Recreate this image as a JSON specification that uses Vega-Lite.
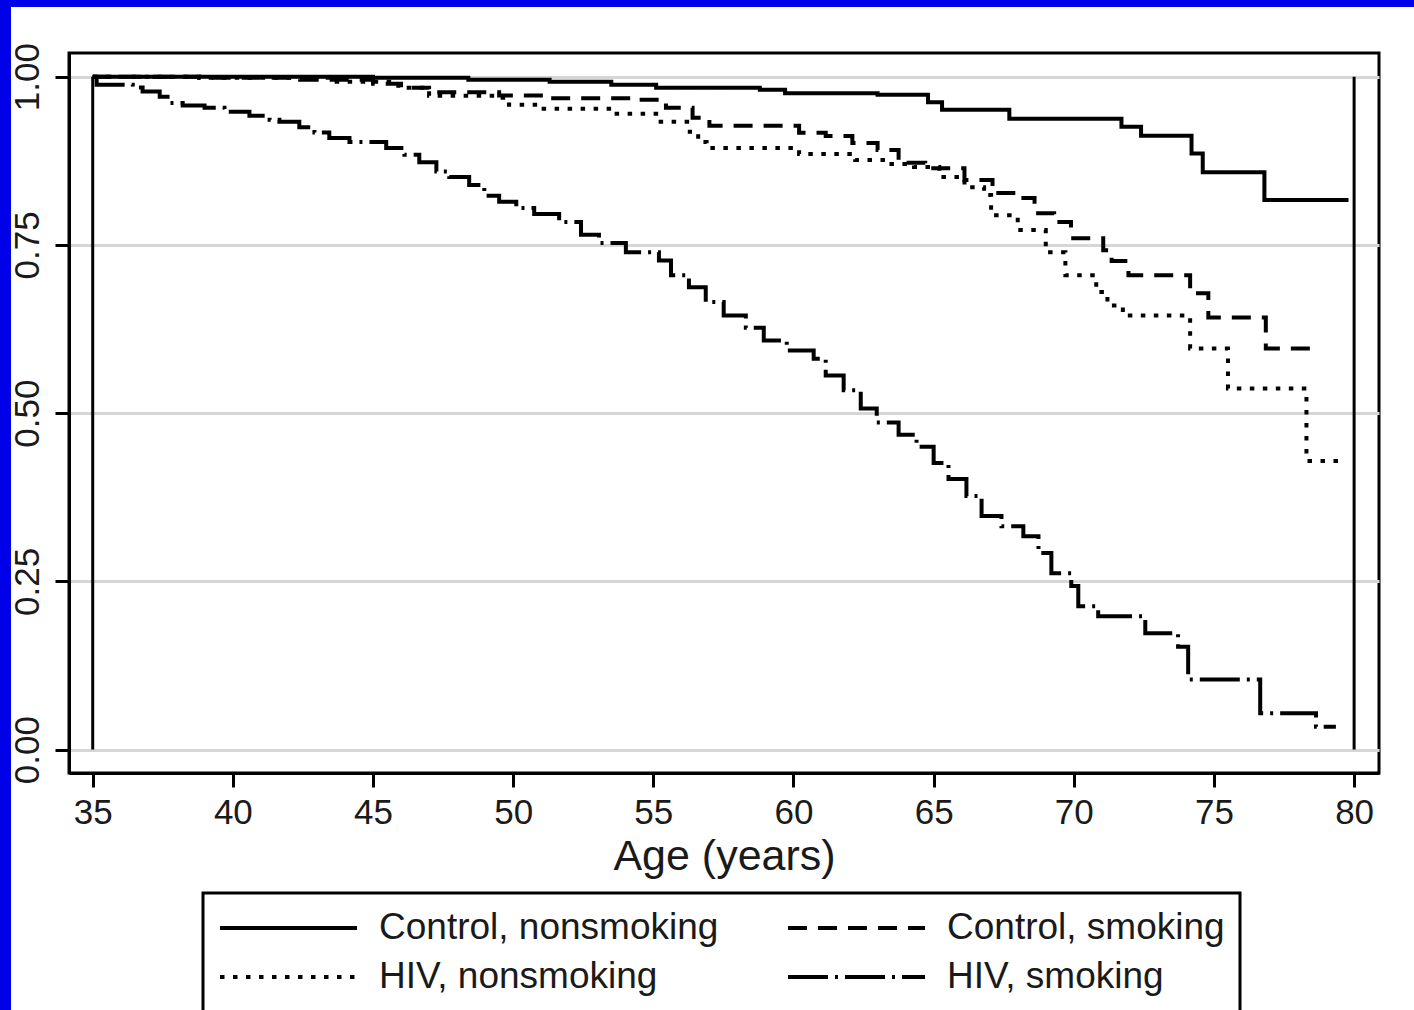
{
  "$schema": "https://vega.github.io/schema/vega-lite/v6.json",
  "width": 1310,
  "height": 720,
  "autosize": {"type": "none"},
  "padding": {"left": 69, "top": 53, "right": 35, "bottom": 237},
  "background": "white",
  "config": {
    "font": "Liberation Sans",
    "view": {"stroke": "black", "strokeWidth": 3},
    "axisX": {
      "titleFont": "Liberation Sans",
      "titleFontSize": 43,
      "titleFontWeight": "normal",
      "titleColor": "#1a1a1a",
      "titlePadding": 5,
      "labelFont": "Liberation Sans",
      "labelFontSize": 35,
      "labelColor": "#1a1a1a",
      "labelPadding": 8,
      "labelFlush": false,
      "labelOverlap": false,
      "tickSize": 14,
      "tickWidth": 3,
      "tickColor": "black",
      "domainColor": "black",
      "domainWidth": 3,
      "grid": false
    },
    "axisY": {
      "labelFont": "Liberation Sans",
      "labelFontSize": 35,
      "labelColor": "#1a1a1a",
      "labelAngle": -90,
      "labelAlign": "center",
      "labelBaseline": "alphabetic",
      "labelPadding": 17,
      "labelFlush": false,
      "labelOverlap": false,
      "tickSize": 14,
      "tickWidth": 3,
      "tickColor": "black",
      "domainColor": "black",
      "domainWidth": 3,
      "grid": true,
      "gridColor": "#d6d6d6",
      "gridWidth": 3
    },
    "legend": {
      "orient": "none",
      "legendX": 134,
      "legendY": 840,
      "direction": "horizontal",
      "columns": 2,
      "symbolType": "stroke",
      "symbolSize": 18769,
      "symbolStrokeWidth": 4,
      "symbolStrokeColor": "black",
      "clipHeight": 40,
      "labelFont": "Liberation Sans",
      "labelFontSize": 37,
      "labelColor": "#1a1a1a",
      "labelOffset": 20,
      "labelLimit": 600,
      "rowPadding": 9,
      "columnPadding": 67,
      "padding": 15,
      "strokeColor": "black",
      "strokeWidth": 3,
      "fillColor": "white"
    }
  },
  "datasets": {
    "curves": [
      {"group": "Control, nonsmoking", "age": 35.0, "surv": 1.0},
      {"group": "Control, nonsmoking", "age": 45.0, "surv": 0.9985},
      {"group": "Control, nonsmoking", "age": 48.4, "surv": 0.9955},
      {"group": "Control, nonsmoking", "age": 51.3, "surv": 0.9925},
      {"group": "Control, nonsmoking", "age": 53.5, "surv": 0.988},
      {"group": "Control, nonsmoking", "age": 55.1, "surv": 0.9836},
      {"group": "Control, nonsmoking", "age": 58.8, "surv": 0.9806},
      {"group": "Control, nonsmoking", "age": 59.7, "surv": 0.9754},
      {"group": "Control, nonsmoking", "age": 63.0, "surv": 0.9732},
      {"group": "Control, nonsmoking", "age": 64.8, "surv": 0.962},
      {"group": "Control, nonsmoking", "age": 65.3, "surv": 0.951},
      {"group": "Control, nonsmoking", "age": 67.7, "surv": 0.9374},
      {"group": "Control, nonsmoking", "age": 71.7, "surv": 0.9255},
      {"group": "Control, nonsmoking", "age": 72.4, "surv": 0.9121},
      {"group": "Control, nonsmoking", "age": 74.2, "surv": 0.886},
      {"group": "Control, nonsmoking", "age": 74.6, "surv": 0.858},
      {"group": "Control, nonsmoking", "age": 76.8, "surv": 0.8167},
      {"group": "Control, nonsmoking", "age": 79.8, "surv": 0.8167},

      {"group": "Control, smoking", "age": 35.0, "surv": 1.0},
      {"group": "Control, smoking", "age": 38.8, "surv": 0.9985},
      {"group": "Control, smoking", "age": 42.4, "surv": 0.9955},
      {"group": "Control, smoking", "age": 45.0, "surv": 0.9896},
      {"group": "Control, smoking", "age": 46.0, "surv": 0.9836},
      {"group": "Control, smoking", "age": 47.0, "surv": 0.977},
      {"group": "Control, smoking", "age": 49.5, "surv": 0.972},
      {"group": "Control, smoking", "age": 51.2, "surv": 0.968},
      {"group": "Control, smoking", "age": 54.5, "surv": 0.9657},
      {"group": "Control, smoking", "age": 55.45, "surv": 0.954},
      {"group": "Control, smoking", "age": 56.4, "surv": 0.939},
      {"group": "Control, smoking", "age": 57.0, "surv": 0.927},
      {"group": "Control, smoking", "age": 60.2, "surv": 0.9165},
      {"group": "Control, smoking", "age": 61.15, "surv": 0.912},
      {"group": "Control, smoking", "age": 62.1, "surv": 0.9016},
      {"group": "Control, smoking", "age": 63.0, "surv": 0.891},
      {"group": "Control, smoking", "age": 63.75, "surv": 0.872},
      {"group": "Control, smoking", "age": 64.7, "surv": 0.864},
      {"group": "Control, smoking", "age": 66.1, "surv": 0.8465},
      {"group": "Control, smoking", "age": 67.1, "surv": 0.827},
      {"group": "Control, smoking", "age": 68.0, "surv": 0.8197},
      {"group": "Control, smoking", "age": 68.6, "surv": 0.797},
      {"group": "Control, smoking", "age": 69.3, "surv": 0.784},
      {"group": "Control, smoking", "age": 69.9, "surv": 0.76},
      {"group": "Control, smoking", "age": 71.05, "surv": 0.742},
      {"group": "Control, smoking", "age": 71.35, "surv": 0.726},
      {"group": "Control, smoking", "age": 71.95, "surv": 0.705},
      {"group": "Control, smoking", "age": 74.15, "surv": 0.678},
      {"group": "Control, smoking", "age": 74.8, "surv": 0.642},
      {"group": "Control, smoking", "age": 76.85, "surv": 0.596},
      {"group": "Control, smoking", "age": 78.7, "surv": 0.596},

      {"group": "HIV, nonsmoking", "age": 35.0, "surv": 1.0},
      {"group": "HIV, nonsmoking", "age": 38.8, "surv": 0.9985},
      {"group": "HIV, nonsmoking", "age": 43.4, "surv": 0.9925},
      {"group": "HIV, nonsmoking", "age": 45.9, "surv": 0.9836},
      {"group": "HIV, nonsmoking", "age": 47.0, "surv": 0.9717},
      {"group": "HIV, nonsmoking", "age": 49.5, "surv": 0.9687},
      {"group": "HIV, nonsmoking", "age": 49.85, "surv": 0.9583},
      {"group": "HIV, nonsmoking", "age": 50.9, "surv": 0.9523},
      {"group": "HIV, nonsmoking", "age": 53.5, "surv": 0.9449},
      {"group": "HIV, nonsmoking", "age": 55.1, "surv": 0.933},
      {"group": "HIV, nonsmoking", "age": 56.3, "surv": 0.918},
      {"group": "HIV, nonsmoking", "age": 56.6, "surv": 0.903},
      {"group": "HIV, nonsmoking", "age": 56.9, "surv": 0.894},
      {"group": "HIV, nonsmoking", "age": 60.2, "surv": 0.885},
      {"group": "HIV, nonsmoking", "age": 62.2, "surv": 0.8763},
      {"group": "HIV, nonsmoking", "age": 63.4, "surv": 0.8703},
      {"group": "HIV, nonsmoking", "age": 64.3, "surv": 0.8659},
      {"group": "HIV, nonsmoking", "age": 65.2, "surv": 0.851},
      {"group": "HIV, nonsmoking", "age": 66.1, "surv": 0.8357},
      {"group": "HIV, nonsmoking", "age": 66.8, "surv": 0.824},
      {"group": "HIV, nonsmoking", "age": 67.05, "surv": 0.794},
      {"group": "HIV, nonsmoking", "age": 68.0, "surv": 0.772},
      {"group": "HIV, nonsmoking", "age": 69.0, "surv": 0.739},
      {"group": "HIV, nonsmoking", "age": 69.7, "surv": 0.705},
      {"group": "HIV, nonsmoking", "age": 70.8, "surv": 0.68},
      {"group": "HIV, nonsmoking", "age": 71.2, "surv": 0.66},
      {"group": "HIV, nonsmoking", "age": 71.75, "surv": 0.645},
      {"group": "HIV, nonsmoking", "age": 74.15, "surv": 0.596},
      {"group": "HIV, nonsmoking", "age": 75.5, "surv": 0.5365},
      {"group": "HIV, nonsmoking", "age": 78.3, "surv": 0.429},
      {"group": "HIV, nonsmoking", "age": 79.7, "surv": 0.429},

      {"group": "HIV, smoking", "age": 35.0, "surv": 1.0},
      {"group": "HIV, smoking", "age": 35.14, "surv": 0.988},
      {"group": "HIV, smoking", "age": 36.43, "surv": 0.984},
      {"group": "HIV, smoking", "age": 36.78, "surv": 0.978},
      {"group": "HIV, smoking", "age": 37.39, "surv": 0.97},
      {"group": "HIV, smoking", "age": 37.67, "surv": 0.961},
      {"group": "HIV, smoking", "age": 38.21, "surv": 0.957},
      {"group": "HIV, smoking", "age": 38.99, "surv": 0.954},
      {"group": "HIV, smoking", "age": 39.7, "surv": 0.948},
      {"group": "HIV, smoking", "age": 40.59, "surv": 0.942},
      {"group": "HIV, smoking", "age": 41.31, "surv": 0.936},
      {"group": "HIV, smoking", "age": 41.66, "surv": 0.933},
      {"group": "HIV, smoking", "age": 42.37, "surv": 0.925},
      {"group": "HIV, smoking", "age": 42.91, "surv": 0.917},
      {"group": "HIV, smoking", "age": 43.44, "surv": 0.909},
      {"group": "HIV, smoking", "age": 44.16, "surv": 0.903},
      {"group": "HIV, smoking", "age": 45.47, "surv": 0.894},
      {"group": "HIV, smoking", "age": 46.12, "surv": 0.884},
      {"group": "HIV, smoking", "age": 46.65, "surv": 0.873},
      {"group": "HIV, smoking", "age": 47.26, "surv": 0.859},
      {"group": "HIV, smoking", "age": 47.72, "surv": 0.851},
      {"group": "HIV, smoking", "age": 48.43, "surv": 0.839},
      {"group": "HIV, smoking", "age": 48.97, "surv": 0.823},
      {"group": "HIV, smoking", "age": 49.5, "surv": 0.814},
      {"group": "HIV, smoking", "age": 50.11, "surv": 0.805},
      {"group": "HIV, smoking", "age": 50.75, "surv": 0.796},
      {"group": "HIV, smoking", "age": 51.64, "surv": 0.784},
      {"group": "HIV, smoking", "age": 52.42, "surv": 0.765},
      {"group": "HIV, smoking", "age": 53.06, "surv": 0.753},
      {"group": "HIV, smoking", "age": 54.02, "surv": 0.739},
      {"group": "HIV, smoking", "age": 55.2, "surv": 0.727},
      {"group": "HIV, smoking", "age": 55.63, "surv": 0.705},
      {"group": "HIV, smoking", "age": 56.27, "surv": 0.687},
      {"group": "HIV, smoking", "age": 56.87, "surv": 0.665},
      {"group": "HIV, smoking", "age": 57.51, "surv": 0.645},
      {"group": "HIV, smoking", "age": 58.3, "surv": 0.627},
      {"group": "HIV, smoking", "age": 58.94, "surv": 0.608},
      {"group": "HIV, smoking", "age": 59.76, "surv": 0.593},
      {"group": "HIV, smoking", "age": 60.72, "surv": 0.581},
      {"group": "HIV, smoking", "age": 61.15, "surv": 0.556},
      {"group": "HIV, smoking", "age": 61.79, "surv": 0.534},
      {"group": "HIV, smoking", "age": 62.4, "surv": 0.507},
      {"group": "HIV, smoking", "age": 62.97, "surv": 0.486},
      {"group": "HIV, smoking", "age": 63.75, "surv": 0.468},
      {"group": "HIV, smoking", "age": 64.39, "surv": 0.45},
      {"group": "HIV, smoking", "age": 65.0, "surv": 0.426},
      {"group": "HIV, smoking", "age": 65.53, "surv": 0.402},
      {"group": "HIV, smoking", "age": 66.17, "surv": 0.377},
      {"group": "HIV, smoking", "age": 66.71, "surv": 0.347},
      {"group": "HIV, smoking", "age": 67.42, "surv": 0.332},
      {"group": "HIV, smoking", "age": 68.2, "surv": 0.317},
      {"group": "HIV, smoking", "age": 68.74, "surv": 0.292},
      {"group": "HIV, smoking", "age": 69.2, "surv": 0.262},
      {"group": "HIV, smoking", "age": 69.91, "surv": 0.243},
      {"group": "HIV, smoking", "age": 70.16, "surv": 0.213},
      {"group": "HIV, smoking", "age": 70.87, "surv": 0.198},
      {"group": "HIV, smoking", "age": 72.55, "surv": 0.173},
      {"group": "HIV, smoking", "age": 73.72, "surv": 0.153},
      {"group": "HIV, smoking", "age": 74.08, "surv": 0.104},
      {"group": "HIV, smoking", "age": 76.65, "surv": 0.054},
      {"group": "HIV, smoking", "age": 78.64, "surv": 0.034},
      {"group": "HIV, smoking", "age": 79.35, "surv": 0.034}
    ],
    "refs": [
      {"age": 35},
      {"age": 80}
    ],
    "frame": [
      {"part": "frame"}
    ]
  },
  "layer": [
    {
      "data": {"name": "frame"},
      "mark": {"type": "rect", "color": "#0000e8", "clip": false},
      "encoding": {
        "x": {"datum": 31.514, "type": "quantitative", "scale": {"domain": [34.154, 80.888], "nice": false, "zero": false}, "axis": {"values": [35, 40, 45, 50, 55, 60, 65, 70, 75, 80], "title": "Age (years)"}},
        "x2": {"datum": 32.085},
        "y": {"datum": -0.3944, "type": "quantitative", "scale": {"domain": [-0.0348, 1.0352], "nice": false, "zero": false}, "axis": {"values": [0, 0.25, 0.5, 0.75, 1], "format": ".2f", "title": null}},
        "y2": {"datum": 1.1214}
      }
    },
    {
      "data": {"name": "frame"},
      "mark": {"type": "rect", "color": "#0000e8", "clip": false},
      "encoding": {
        "x": {"datum": 31.514, "type": "quantitative", "scale": {"domain": [34.154, 80.888], "nice": false, "zero": false}, "axis": {"values": [35, 40, 45, 50, 55, 60, 65, 70, 75, 80], "title": "Age (years)"}},
        "x2": {"datum": 82.35},
        "y": {"datum": 1.1036, "type": "quantitative", "scale": {"domain": [-0.0348, 1.0352], "nice": false, "zero": false}, "axis": {"values": [0, 0.25, 0.5, 0.75, 1], "format": ".2f", "title": null}},
        "y2": {"datum": 1.1214}
      }
    },
    {
      "data": {"name": "refs"},
      "mark": {"type": "rule", "color": "black", "strokeWidth": 3},
      "encoding": {
        "x": {"field": "age", "type": "quantitative", "scale": {"domain": [34.154, 80.888], "nice": false, "zero": false}, "axis": {"values": [35, 40, 45, 50, 55, 60, 65, 70, 75, 80], "title": "Age (years)"}},
        "y": {"datum": 0, "type": "quantitative", "scale": {"domain": [-0.0348, 1.0352], "nice": false, "zero": false}, "axis": {"values": [0, 0.25, 0.5, 0.75, 1], "format": ".2f", "title": null}},
        "y2": {"datum": 1}
      }
    },
    {
      "data": {"name": "curves"},
      "mark": {"type": "line", "interpolate": "step-after", "color": "black", "strokeWidth": 4, "strokeCap": "butt"},
      "encoding": {
        "x": {
          "field": "age",
          "type": "quantitative",
          "scale": {"domain": [34.154, 80.888], "nice": false, "zero": false},
          "axis": {"values": [35, 40, 45, 50, 55, 60, 65, 70, 75, 80], "title": "Age (years)"}
        },
        "y": {
          "field": "surv",
          "type": "quantitative",
          "scale": {"domain": [-0.0348, 1.0352], "nice": false, "zero": false},
          "axis": {"values": [0, 0.25, 0.5, 0.75, 1], "format": ".2f", "title": null}
        },
        "strokeDash": {
          "field": "group",
          "type": "nominal",
          "scale": {
            "domain": ["Control, nonsmoking", "Control, smoking", "HIV, nonsmoking", "HIV, smoking"],
            "range": [[1, 0], [19, 11], [4.5, 8.5], [40, 7, 3, 7]]
          },
          "legend": {"title": null}
        }
      }
    }
  ]
}
